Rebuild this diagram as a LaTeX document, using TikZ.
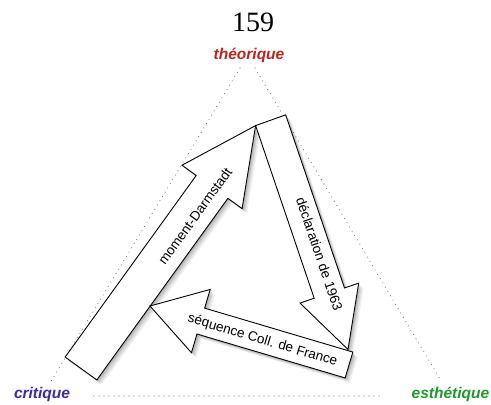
\documentclass[tikz,border=0pt]{standalone}
\usepackage{fontspec}
\setmainfont{Liberation Sans}
\newfontfamily\pagenumfont{Liberation Serif}
\definecolor{theocol}{RGB}{178,40,30}
\definecolor{critcol}{RGB}{62,42,160}
\definecolor{esthcol}{RGB}{32,150,44}
\begin{document}
\begin{tikzpicture}[x=1pt,y=-1pt,
  dotline/.style={draw=gray!90!black, line width=1.1pt, line cap=round, dash pattern=on 0pt off 5pt},
  bigarrow/.style={draw=black, line width=0.9pt, fill=white, line join=miter},
  corner/.style={font=\fontsize{15.5}{18}\selectfont\bfseries\itshape, inner sep=0pt, anchor=base},
  arrowlabel/.style={font=\fontsize{13.5}{16}\selectfont, inner sep=0pt}]
\useasboundingbox (0,0) rectangle (491,405);

% page number
\node[font=\pagenumfont\fontsize{28}{30}\selectfont, inner sep=0pt, anchor=base] (pagenum) at (253,31.5) {159};

% corner labels
\node[corner, text=theocol] (theo) at (249,59) {théorique};
\node[corner, text=critcol] (crit) at (42,398) {critique};
\node[corner, text=esthcol] (esth) at (450.5,398) {esthétique};

% dotted triangle
\coordinate (dl1) at (240,68);
\coordinate (dl2) at (50,383);
\coordinate (dr1) at (255,68);
\coordinate (dr2) at (440,379);
\coordinate (db1) at (94,396);
\coordinate (db2) at (383,396);
\draw[dotline] (dl1) -- (dl2);
\draw[dotline] (dr1) -- (dr2);
\draw[dotline] (db1) -- (db2);

% arrow outlines
\def\arrowA{(65.16,357.07) -- (196.2,175.48) -- (181.99,165.22) -- (255.6,125.6) -- (242.09,208.6) -- (227.88,198.34) -- (96.84,379.93) -- cycle}
\def\arrowB{(255.6,125.6) -- (314.19,298.24) -- (299.99,303.07) -- (348,349.5) -- (358.69,283.11) -- (344.49,287.94) -- (285.65,114.85) -- cycle}
\def\arrowC{(352.84,352.06) -- (204.66,308.13) -- (210.2,289.43) -- (150,306) -- (191.44,352.71) -- (196.98,334.01) -- (345.16,377.94) -- cycle}

% soft shadows
\foreach \k/\o in {5/0.05,4/0.06,3/0.07,2/0.08,1/0.09} {
  \fill[black, opacity=\o, shift={(\k,\k)}] \arrowA;
  \fill[black, opacity=\o, shift={(\k,\k)}] \arrowB;
  \fill[black, opacity=\o, shift={(\k,\k)}] \arrowC;
}

% arrows
\path[bigarrow] \arrowA;
\path[bigarrow] \arrowB;
\path[bigarrow] \arrowC;

% arrow labels
\node[arrowlabel, rotate=54.2] (darm) at (195,216) {moment-Darmstadt};
\node[arrowlabel, rotate=-71.2] (decl) at (319.5,254) {déclaration de 1963};
\node[arrowlabel, rotate=-16.5] (coll) at (262.5,340.5) {séquence Coll. de France};
\end{tikzpicture}
\end{document}
